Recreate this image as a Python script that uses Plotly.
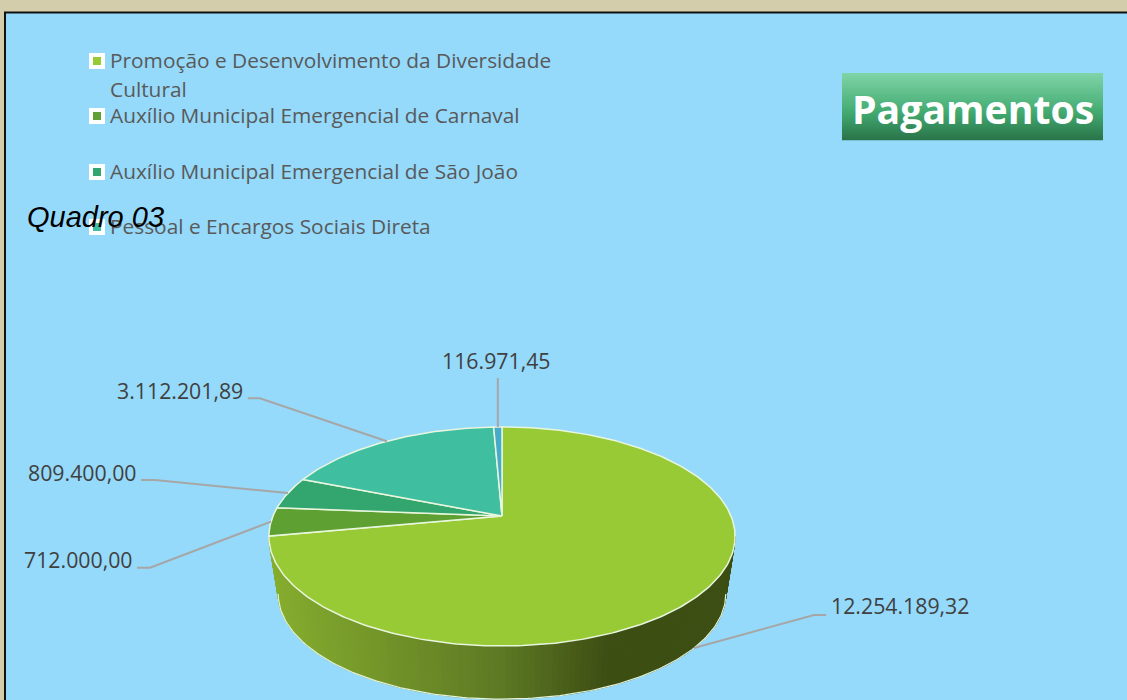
import numpy as np
import plotly.graph_objects as go

categorias = [
    "Promoção e Desenvolvimento da Diversidade<br>Cultural",
    "Auxílio Municipal Emergencial de Carnaval",
    "Auxílio Municipal Emergencial de São João",
    "Pessoal e Encargos Sociais Direta",
    "Outros",
]
valores = [12254189.32, 712000.00, 809400.00, 3112201.89, 116971.45]
cores = ["#97CA34", "#5FA032", "#33A56E", "#40BFA0", "#46AACB"]
titulo = "Pagamentos"
quadro = "Quadro 03"

W, H = 1127, 700
CX, CY0, A, B, K = 502.0, 516.0, 105.7, 229.0, 0.187   # perspective of pie top
EX, EY, DY, SC = 502.0, 536.5, 57.5, 0.96              # extrusion of the base


def top(theta):
    X, Y = np.sin(theta), -np.cos(theta)
    w = 1 - K * Y
    return CX + B * X / w, CY0 + A * Y / w


def base(theta):
    x, y = top(theta)
    return EX + SC * (x - EX), EY + DY + SC * (y - EY)


def hex2rgb(h):
    return np.array([int(h[i:i + 2], 16) for i in (1, 3, 5)], float)


def ramp(t, stops):
    ts = [s[0] for s in stops]
    cs = np.array([hex2rgb(s[1]) for s in stops])
    return "rgb(%d,%d,%d)" % tuple(np.interp(t, ts, cs[:, i]) for i in range(3))


def fmt(v):
    return f"{v:,.2f}".replace(",", "X").replace(".", ",").replace("X", ".")


fig = go.Figure()
base_kw = dict(hoverinfo="skip", showlegend=False)

# side wall
wall_stops = [(270, "#86AD2E"), (500, "#5E7A24"), (610, "#3D4E13"), (735, "#3D4E13")]
t0 = np.arccos(-K)
edges = np.linspace(t0, 2 * np.pi - t0, 130)
for a, b in zip(edges[:-1], edges[1:]):
    xa, ya = top(a); xb, yb = top(b)
    xc, yc = base(b); xd, yd = base(a)
    col = ramp((xa + xb) / 2, wall_stops)
    fig.add_trace(go.Scatter(x=[xa, xb, xc, xd, xa], y=[ya, yb, yc, yd, ya], mode="lines",
                             fill="toself", fillcolor=col, line=dict(color=col, width=1), **base_kw))
arc = np.linspace(t0, 2 * np.pi - t0, 160)
bx, by = base(arc)
fig.add_trace(go.Scatter(x=bx, y=by, mode="lines", line=dict(color="#E3F2D8", width=1.2), **base_kw))

# top slices
total = sum(valores)
fr = np.array(valores) / total
ini = 2 * np.pi * np.concatenate([[0], np.cumsum(fr)[:-1]])
fim = 2 * np.pi * np.cumsum(fr)
for s, e, c in zip(ini, fim, cores):
    th = np.linspace(s, e, max(3, int((e - s) * 60)))
    x, y = top(th)
    fig.add_trace(go.Scatter(x=np.r_[CX, x, CX], y=np.r_[CY0, y, CY0], mode="lines", fill="toself",
                             fillcolor=c, line=dict(color="#E9F6DE", width=1.5), **base_kw))

# leader lines and value labels (elbow offsets from each slice anchor)
mid = (ini + fim) / 2
ax, ay = top(mid)
ax[0], ay[0] = base(mid[0])
elbow1 = [(120, -33), (-121, 46), (-133, -13), (-127, -43), (0, -49)]
elbow2 = [(132, -33), (-134, 46), (-147, -13), (-139, -43), (0, -49)]
text_pos = [(829, 605.5, "left"), (135, 559.5, "right"), (139, 472.5, "right"), (245, 390.5, "right"), (496, 360.5, "center")]
annots = []
for i in range(5):
    fig.add_trace(go.Scatter(x=[ax[i], ax[i] + elbow1[i][0], ax[i] + elbow2[i][0]],
                             y=[ay[i], ay[i] + elbow1[i][1], ay[i] + elbow2[i][1]],
                             mode="lines", line=dict(color="#A6A6A6", width=2), **base_kw))
    tx, ty, anc = text_pos[i]
    annots.append(dict(x=tx, y=ty, text=fmt(valores[i]), xref="x", yref="y", showarrow=False, xanchor=anc,
                       yanchor="middle", font=dict(family="Open Sans", size=21.3, color="#404040")))

# legend (swatches and text)
leg_y = [61, 116, 172, 227]
fig.add_trace(go.Scatter(x=[97] * 4, y=leg_y, mode="markers",
                         marker=dict(symbol="square", size=16, color="white"), **base_kw))
fig.add_trace(go.Scatter(x=[97] * 4, y=leg_y, mode="markers",
                         marker=dict(symbol="square", size=8, color=cores[:4]), **base_kw))
for i, yy in enumerate(leg_y):
    for j, part in enumerate(categorias[i].split("<br>")):
        annots.append(dict(x=108, y=yy - 1 + 29 * j, text=part, xref="x", yref="y", showarrow=False, xanchor="left",
                           yanchor="middle", font=dict(family="Open Sans", size=20.85, color="#595959")))

annots.append(dict(x=25, y=217, text=f"<i>{quadro}</i>", xref="x", yref="y", showarrow=False, xanchor="left",
                   yanchor="middle", font=dict(family="Liberation Sans", size=29, color="black")))
annots.append(dict(x=972.5, y=108, text=f"<b>{titulo}</b>", xref="x", yref="y", showarrow=False, xanchor="center",
                   yanchor="middle", font=dict(family="Open Sans", size=39.2, color="white")))

# frame and title box
shapes = [dict(type="rect", x0=5, y0=12.5, x1=W + 20, y1=H + 20, xref="x", yref="y", layer="below",
               fillcolor="#95DAFB", line=dict(color="#101010", width=2))]
box_stops = [(73, "#80D5A8"), (112, "#43AB72"), (140, "#2A7449")]
for yy in range(73, 140):
    shapes.append(dict(type="rect", x0=842, x1=1103, y0=yy, y1=yy + 1.3, xref="x", yref="y", layer="below",
                       fillcolor=ramp(yy + .5, box_stops), line=dict(width=0)))

fig.update_layout(
    width=W, height=H, margin=dict(l=0, r=0, t=0, b=0), autosize=False,
    paper_bgcolor="#D3CDAB", plot_bgcolor="rgba(0,0,0,0)", showlegend=False,
    xaxis=dict(range=[0, W], visible=False, fixedrange=True),
    yaxis=dict(range=[H, 0], visible=False, fixedrange=True),
    shapes=shapes, annotations=annots,
)
fig.write_html("out.html", config=dict(displayModeBar=False),
               post_script="document.body.style.margin='0';document.documentElement.style.overflow='hidden';")
